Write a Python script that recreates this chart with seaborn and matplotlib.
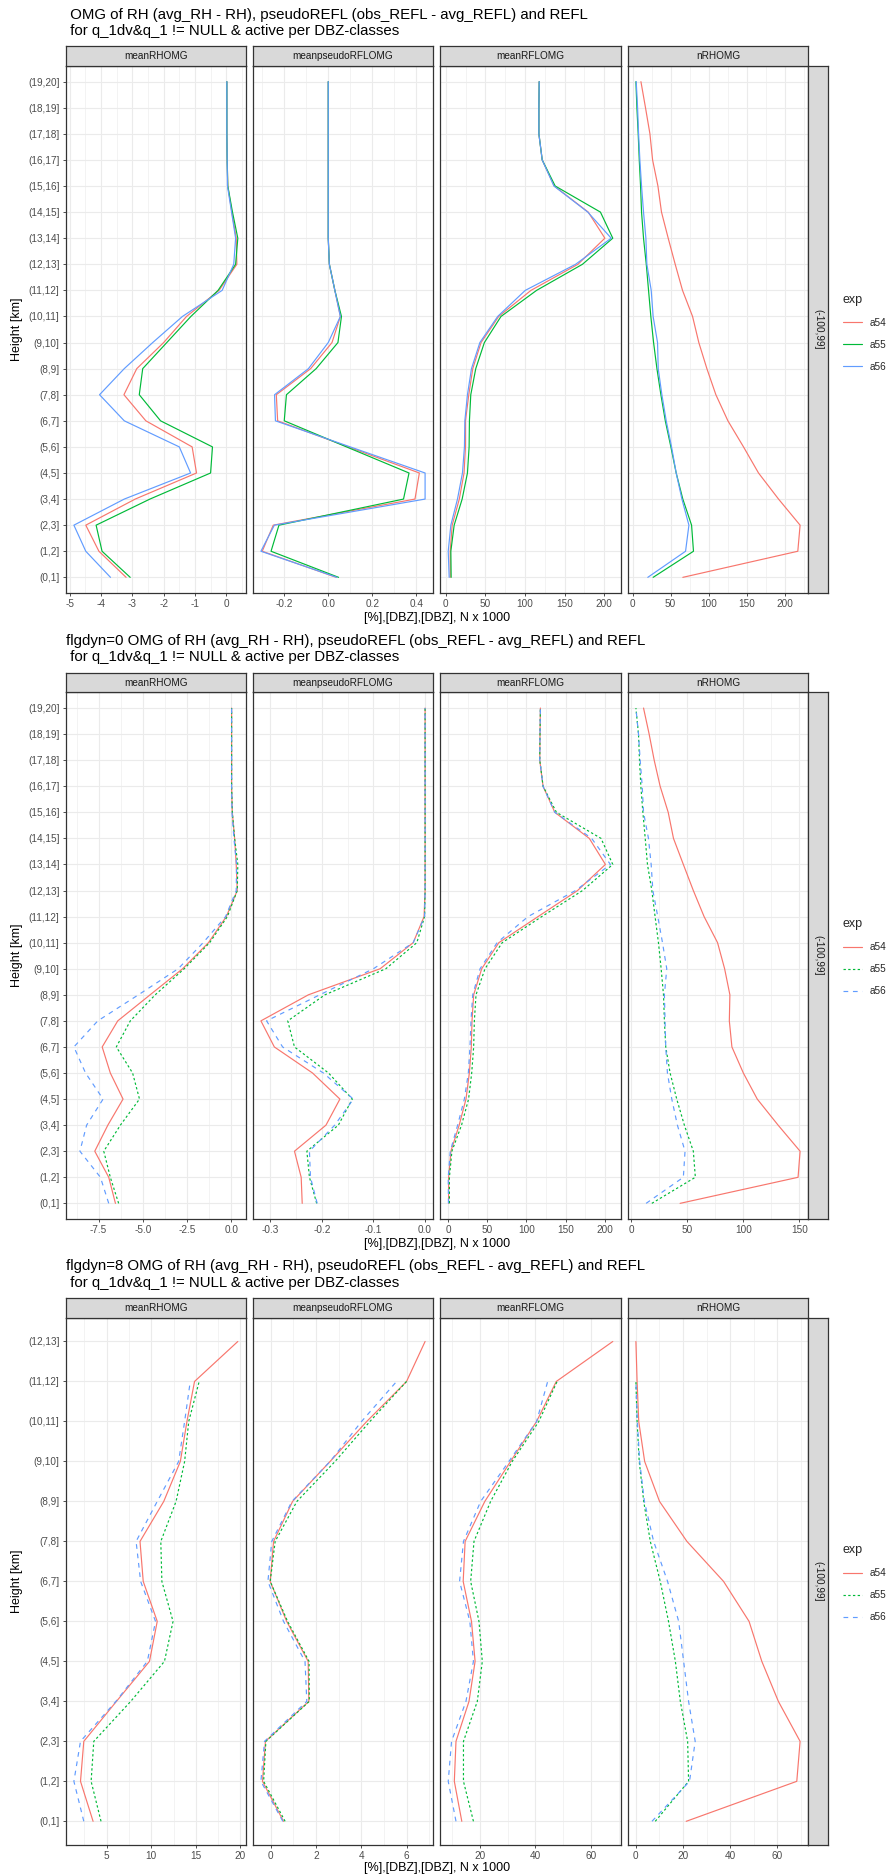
import numpy as np
import pandas as pd
import matplotlib
matplotlib.use("Agg")
import matplotlib.pyplot as plt
import seaborn as sns

# ---------------- data (bottom level first) ----------------
EXPS = ["a54", "a55", "a56"]
FACETS = ["meanRHOMG", "meanpseudoRFLOMG", "meanRFLOMG", "nRHOMG"]

LEVELS_20 = ["(0,1]", "(1,2]", "(2,3]", "(3,4]", "(4,5]", "(5,6]", "(6,7]", "(7,8]",
             "(8,9]", "(9,10]", "(10,11]", "(11,12]", "(12,13]", "(13,14]", "(14,15]",
             "(15,16]", "(16,17]", "(17,18]", "(18,19]", "(19,20]"]
LEVELS_13 = ["(0,1]", "(1,2]", "(2,3]", "(3,4]", "(4,5]", "(5,6]", "(6,7]", "(7,8]",
             "(8,9]", "(9,10]", "(10,11]", "(11,12]", "(12,13]"]

# panel 1: all data
P1_RH_A54 = [-3.2, -4.07, -4.49, -2.91, -0.95, -1.09, -2.57, -3.27, -2.86, -2.0, -1.27, -0.23, 0.34, 0.32, 0.18, 0.05, 0.03, 0.02, 0.02, 0.02]
P1_RH_A55 = [-3.07, -3.97, -4.16, -2.44, -0.5, -0.44, -2.1, -2.78, -2.67, -1.9, -1.13, -0.26, 0.3, 0.37, 0.2, 0.05, 0.03, 0.02, 0.02, 0.02]
P1_RH_A56 = [-3.7, -4.49, -4.87, -3.26, -1.14, -1.5, -3.26, -4.05, -3.26, -2.35, -1.4, -0.13, 0.24, 0.3, 0.17, 0.04, 0.03, 0.02, 0.02, 0.02]
P1_PS_A54 = [0.036, -0.30, -0.25, 0.394, 0.414, 0.091, -0.23, -0.236, -0.08, 0.017, 0.055, 0.03, 0.005, 0.0, 0.0, 0.0, 0.0, 0.0, 0.0, 0.0]
P1_PS_A55 = [0.047, -0.26, -0.224, 0.342, 0.367, 0.083, -0.2, -0.19, -0.055, 0.044, 0.06, 0.03, 0.005, 0.0, 0.0, 0.0, 0.0, 0.0, 0.0, 0.0]
P1_PS_A56 = [0.04, -0.306, -0.245, 0.44, 0.44, 0.1, -0.24, -0.244, -0.09, 0.0, 0.055, 0.03, 0.005, 0.0, 0.0, 0.0, 0.0, 0.0, 0.0, 0.0]
P1_RF_A54 = [5.5, 5.5, 8, 17, 23, 24.8, 24.8, 29, 34, 44.5, 66.8, 107.6, 167, 201, 180, 137, 121.8, 117.6, 117.6, 118]
P1_RF_A55 = [6.7, 6.3, 10.5, 20.6, 27.3, 29.4, 29.8, 31.5, 37.8, 48.7, 69.7, 114.7, 172.7, 211, 195.4, 138.2, 121.8, 117.6, 117.6, 118]
P1_RF_A56 = [4.2, 3, 6.3, 14.7, 21, 23.5, 24, 27.3, 32.4, 43, 65.5, 100.4, 164, 209, 179.4, 136.6, 121.8, 117.6, 117.6, 118]
P1_N_A54 = [66, 217, 220, 191.7, 165.4, 145.7, 125.2, 109.4, 97.6, 87, 78.8, 65.6, 56, 46.8, 38, 33.3, 26.3, 22.8, 17, 11]
P1_N_A55 = [27, 80, 77.5, 66, 57.3, 50.3, 43, 37.2, 32, 27.6, 24, 21, 18, 14.4, 11.8, 10.5, 8.8, 7.4, 5.7, 4.4]
P1_N_A56 = [20, 69.6, 74, 64.8, 57.3, 51.2, 44.2, 38.5, 33.7, 32.8, 27, 24.5, 18.8, 17.5, 14.4, 11.8, 9.6, 7.9, 6.6, 4.8]

# panel 2: flgdyn=0
P2_RH_A54 = [-6.55, -6.93, -7.72, -6.98, -6.12, -6.84, -7.3, -6.42, -4.59, -2.75, -1.29, -0.28, 0.34, 0.28, 0.19, 0.06, 0.02, 0.02, 0.02, 0.02]
P2_RH_A55 = [-6.37, -6.84, -7.21, -6.27, -5.19, -5.58, -6.5, -5.71, -4.3, -2.66, -1.22, -0.22, 0.34, 0.37, 0.19, 0.06, 0.02, 0.02, 0.02, 0.02]
P2_RH_A56 = [-6.93, -7.4, -8.56, -8.18, -7.25, -8.24, -8.9, -7.55, -5.25, -3.0, -1.59, -0.32, 0.28, 0.3, 0.15, 0.04, 0.02, 0.02, 0.02, 0.02]
P2_PS_A54 = [-0.238, -0.24, -0.253, -0.192, -0.165, -0.218, -0.292, -0.318, -0.226, -0.087, -0.023, -0.002, 0.0, 0.0, 0.0, 0.0, 0.0, 0.0, 0.0, 0.0]
P2_PS_A55 = [-0.21, -0.224, -0.229, -0.168, -0.141, -0.187, -0.253, -0.266, -0.194, -0.076, -0.016, -0.001, 0.0, 0.0, 0.0, 0.0, 0.0, 0.0, 0.0, 0.0]
P2_PS_A56 = [-0.209, -0.222, -0.224, -0.175, -0.139, -0.197, -0.276, -0.307, -0.204, -0.1, -0.023, -0.001, 0.0, 0.0, 0.0, 0.0, 0.0, 0.0, 0.0, 0.0]
P2_RF_A54 = [0.5, 0.5, 3.4, 14, 22.7, 27, 29.5, 30.4, 32.5, 42.8, 64.7, 114.8, 165.3, 200.9, 180.3, 136.2, 121.2, 117, 117.3, 117.8]
P2_RF_A55 = [1.5, 1.5, 4.7, 17, 26, 30, 32.5, 33.4, 35.5, 47, 69, 119.5, 171.7, 210.3, 195.3, 138.3, 121.2, 117, 117.3, 117.8]
P2_RF_A56 = [0.3, 0.0, 2.6, 12, 20.6, 25.7, 27.8, 29.1, 31.3, 40.7, 62.5, 102, 162.7, 207.3, 183.3, 136.2, 121.2, 117, 117.3, 117.8]
P2_N_A54 = [43.6, 148.8, 150.6, 131, 112.4, 100, 89.8, 87.5, 88, 83.3, 77, 65, 55.4, 46.5, 37.7, 33, 25.8, 20.5, 16, 11]
P2_N_A55 = [18.4, 57.2, 55.4, 47.4, 40.6, 34.7, 30.8, 29.6, 28.8, 26.7, 24.3, 21.3, 18.4, 14.5, 12.5, 10.4, 8.6, 7.4, 6.5, 4.2]
P2_N_A56 = [13.3, 46.5, 48, 41.2, 36.2, 32.3, 30.8, 30.2, 29.6, 31.7, 27.9, 23.7, 19.3, 17.8, 15.4, 11, 9.8, 8, 6.5, 4.2]

# panel 3: flgdyn=8 (a55/a56 stop at (11,12])
P3_RH_A54 = [3.48, 2.07, 2.44, 6.1, 9.8, 10.67, 9.1, 8.74, 11.4, 13.26, 14.0, 14.85, 19.7]
P3_RH_A55 = [4.37, 3.26, 3.56, 7.7, 11.48, 12.44, 11.19, 11.07, 12.78, 13.74, 14.2, 15.37]
P3_RH_A56 = [2.44, 1.33, 2.07, 6.04, 9.56, 10.48, 8.81, 8.3, 10.67, 13.07, 13.74, 14.37]
P3_PS_A54 = [0.56, -0.37, -0.24, 1.68, 1.65, 0.7, -0.03, 0.12, 0.96, 2.62, 4.24, 6.0, 6.82]
P3_PS_A55 = [0.63, -0.32, -0.22, 1.7, 1.69, 0.74, -0.03, 0.19, 1.15, 2.84, 4.38, 6.0]
P3_PS_A56 = [0.53, -0.44, -0.28, 1.59, 1.51, 0.56, -0.13, 0.04, 0.93, 2.62, 4.01, 5.56]
P3_RF_A54 = [13.4, 10.7, 11.3, 16, 18.2, 16.9, 13.9, 14.6, 21.7, 31, 40.4, 47.5, 67.9]
P3_RF_A55 = [17.6, 14, 14, 19, 20.8, 19.6, 16.6, 17.8, 23.8, 31.6, 41.2, 47.8]
P3_RF_A56 = [11.3, 8.5, 9.7, 14.9, 17.6, 16.3, 12.6, 14, 20.2, 30.4, 40.4, 44.4]
P3_N_A54 = [21.4, 68.2, 69.6, 60.4, 53.4, 48, 37.2, 21.7, 10.1, 3.8, 1.3, 0.6, 0.1]
P3_N_A55 = [8.3, 22.4, 22, 18.9, 16.8, 13.9, 10.4, 6.2, 3.4, 1.5, 0.6, 0.1]
P3_N_A56 = [6.9, 22.8, 25.2, 22.4, 20.3, 18.2, 13.5, 7.6, 3.7, 1.7, 0.7, 0.1]

# x tick values / labels per facet
P1_XTICKS = [[-5, -4, -3, -2, -1, 0], [-0.2, 0.0, 0.2, 0.4], [0, 50, 100, 150, 200], [0, 50, 100, 150, 200]]
P1_XLABELS = [["-5", "-4", "-3", "-2", "-1", "0"], ["-0.2", "0.0", "0.2", "0.4"], ["0", "50", "100", "150", "200"], ["0", "50", "100", "150", "200"]]
P2_XTICKS = [[-7.5, -5.0, -2.5, 0.0], [-0.3, -0.2, -0.1, 0.0], [0, 50, 100, 150, 200], [0, 50, 100, 150]]
P2_XLABELS = [["-7.5", "-5.0", "-2.5", "0.0"], ["-0.3", "-0.2", "-0.1", "0.0"], ["0", "50", "100", "150", "200"], ["0", "50", "100", "150"]]
P3_XTICKS = [[5, 10, 15, 20], [0, 2, 4, 6], [20, 40, 60], [0, 20, 40, 60]]
P3_XLABELS = [["5", "10", "15", "20"], ["0", "2", "4", "6"], ["20", "40", "60"], ["0", "20", "40", "60"]]

TITLES = [
    (" OMG of RH (avg_RH - RH), pseudoREFL (obs_REFL - avg_REFL) and REFL", " for q_1dv&q_1 != NULL & active per DBZ-classes"),
    ("flgdyn=0 OMG of RH (avg_RH - RH), pseudoREFL (obs_REFL - avg_REFL) and REFL", " for q_1dv&q_1 != NULL & active per DBZ-classes"),
    ("flgdyn=8 OMG of RH (avg_RH - RH), pseudoREFL (obs_REFL - avg_REFL) and REFL", " for q_1dv&q_1 != NULL & active per DBZ-classes"),
]
ROW_STRIP = "(-100,99]"
YLABEL = "Height [km]"
XLABEL = "[%],[DBZ],[DBZ], N x 1000"


def build(levels, series):
    rows = []
    for facet, per_exp in zip(FACETS, series):
        for exp, vals in zip(EXPS, per_exp):
            for i, v in enumerate(vals):
                rows.append({"facet": facet, "exp": exp, "level": levels[i], "pos": i, "value": v})
    return pd.DataFrame(rows)


DF1 = build(LEVELS_20, [[P1_RH_A54, P1_RH_A55, P1_RH_A56], [P1_PS_A54, P1_PS_A55, P1_PS_A56],
                        [P1_RF_A54, P1_RF_A55, P1_RF_A56], [P1_N_A54, P1_N_A55, P1_N_A56]])
DF2 = build(LEVELS_20, [[P2_RH_A54, P2_RH_A55, P2_RH_A56], [P2_PS_A54, P2_PS_A55, P2_PS_A56],
                        [P2_RF_A54, P2_RF_A55, P2_RF_A56], [P2_N_A54, P2_N_A55, P2_N_A56]])
DF3 = build(LEVELS_13, [[P3_RH_A54, P3_RH_A55, P3_RH_A56], [P3_PS_A54, P3_PS_A55, P3_PS_A56],
                        [P3_RF_A54, P3_RF_A55, P3_RF_A56], [P3_N_A54, P3_N_A55, P3_N_A56]])

# ---------------- style ----------------
sns.set_theme(style="white")
plt.rcParams["font.family"] = ["Liberation Sans", "DejaVu Sans"]
plt.rcParams["axes.unicode_minus"] = False

PALETTE = {"a54": "#F8766D", "a55": "#00BA38", "a56": "#619CFF"}
DASHES = {"a54": "", "a55": (2, 2), "a56": (4, 4)}
GRID = "#EBEBEB"
DARK = "#333333"
TICKTXT = "#4D4D4D"
STRIPBG = "#D9D9D9"
STRIPTXT = "#1A1A1A"
FS_TICK = 7.2
FS_STRIP = 7.2
FS_AXIS = 9.0
FS_TITLE = 10.8

W, H = 895, 1876
fig = plt.figure(figsize=(W / 100, H / 100), dpi=100)


def rect(x0, y0, x1, y1):
    return [x0 / W, 1 - y1 / H, (x1 - x0) / W, (y1 - y0) / H]


FX = [(65.7, 246.0), (252.7, 433.3), (440.0, 621.0), (627.7, 808.3)]
RSTRIP = (808.3, 828.3)
PANELS = [
    dict(df=DF1, levels=LEVELS_20, ticks=P1_XTICKS, labels=P1_XLABELS, styled=False,
         ys=(46.3, 66.0, 593.0), title_y=(15.0, 31.0), xlab_y=618.0, leg_y=294.0),
    dict(df=DF2, levels=LEVELS_20, ticks=P2_XTICKS, labels=P2_XLABELS, styled=True,
         ys=(672.6, 692.4, 1219.0), title_y=(640.6, 656.8), xlab_y=1244.5, leg_y=918.0),
    dict(df=DF3, levels=LEVELS_13, ticks=P3_XTICKS, labels=P3_XLABELS, styled=True,
         ys=(1298.0, 1317.5, 1845.3), title_y=(1265.6, 1282.6), xlab_y=1868.0, leg_y=1544.0),
]

for p_i, P in enumerate(PANELS):
    st, at, ab = P["ys"]
    df = P["df"]
    nlev = len(P["levels"])
    handles = labels = None
    for f_i, facet in enumerate(FACETS):
        x0, x1 = FX[f_i]
        ax = fig.add_axes(rect(x0, at, x1, ab))
        sub = df[df["facet"] == facet]
        want_leg = (f_i == 3)
        if P["styled"]:
            sns.lineplot(data=sub, x="value", y="pos", hue="exp", hue_order=EXPS,
                         style="exp", style_order=EXPS, dashes=DASHES, palette=PALETTE,
                         orient="y", sort=True, estimator=None, linewidth=0.85,
                         ax=ax, legend=want_leg)
        else:
            sns.lineplot(data=sub, x="value", y="pos", hue="exp", hue_order=EXPS,
                         palette=PALETTE, orient="y", sort=True, estimator=None,
                         linewidth=0.85, ax=ax, legend=want_leg)
        if want_leg:
            leg = ax.get_legend()
            handles = list(leg.legend_handles)
            labels = [t.get_text() for t in leg.get_texts()]
            leg.remove()
        ax.set_ylim(-0.6, nlev - 1 + 0.6)
        ax.margins(x=0.05)
        ax.autoscale_view()
        xmin, xmax = ax.get_xlim()
        ticks = P["ticks"][f_i]
        step = ticks[1] - ticks[0]
        minors = [t - step / 2 for t in ticks] + [ticks[-1] + step / 2]
        minors = [m for m in minors if xmin <= m <= xmax]
        ax.set_xticks(ticks)
        ax.set_xticklabels(P["labels"][f_i])
        ax.set_xticks(minors, minor=True)
        ax.set_xlim(xmin, xmax)
        ax.set_yticks(range(nlev))
        if f_i == 0:
            ax.set_yticklabels(P["levels"])
            ax.tick_params(axis="y", which="major", length=2.5, width=0.6, color=DARK,
                           labelsize=FS_TICK, labelcolor=TICKTXT, pad=2)
        else:
            ax.set_yticklabels([])
            ax.tick_params(axis="y", which="major", length=0)
        ax.tick_params(axis="x", which="major", length=2.5, width=0.6, color=DARK,
                       labelsize=FS_TICK, labelcolor=TICKTXT, pad=1.5, direction="out",
                       bottom=True)
        ax.tick_params(axis="x", which="minor", length=0, bottom=False)
        ax.tick_params(axis="y", direction="out", left=(f_i == 0))
        ax.grid(True, which="major", axis="both", color=GRID, linewidth=0.8)
        ax.grid(True, which="minor", axis="x", color=GRID, linewidth=0.4)
        ax.set_axisbelow(True)
        for sp in ax.spines.values():
            sp.set_color(DARK)
            sp.set_linewidth(0.9)
        ax.set_xlabel("")
        ax.set_ylabel("")
        ax.set_facecolor("white")
        # strip on top
        sax = fig.add_axes(rect(x0, st, x1, at))
        sax.set_facecolor(STRIPBG)
        sax.set_xticks([])
        sax.set_yticks([])
        for sp in sax.spines.values():
            sp.set_color(DARK)
            sp.set_linewidth(0.9)
        sax.text(0.5, 0.5, facet, ha="center", va="center", fontsize=FS_STRIP,
                 color=STRIPTXT, transform=sax.transAxes)
    # right strip
    rax = fig.add_axes(rect(RSTRIP[0], at, RSTRIP[1], ab))
    rax.set_facecolor(STRIPBG)
    rax.set_xticks([])
    rax.set_yticks([])
    for sp in rax.spines.values():
        sp.set_color(DARK)
        sp.set_linewidth(0.9)
    rax.text(0.5, 0.5, ROW_STRIP, ha="center", va="center", rotation=-90,
             fontsize=FS_STRIP, color=STRIPTXT, transform=rax.transAxes)
    # titles
    t1, t2 = TITLES[p_i]
    fig.text(65.7 / W, 1 - P["title_y"][0] / H, t1, ha="left", va="center",
             fontsize=FS_TITLE, color="black")
    fig.text(65.7 / W, 1 - P["title_y"][1] / H, t2, ha="left", va="center",
             fontsize=FS_TITLE, color="black")
    # axis titles
    fig.text(17 / W, 1 - ((at + ab) / 2) / H, YLABEL, rotation=90, ha="center",
             va="center", fontsize=FS_AXIS, color="black")
    fig.text(437 / W, 1 - P["xlab_y"] / H, XLABEL, ha="center", va="center",
             fontsize=FS_AXIS, color="black")
    # legend
    fig.legend(handles, labels, title="exp", loc="upper left",
               bbox_to_anchor=(843 / W, 1 - P["leg_y"] / H), frameon=False,
               fontsize=FS_TICK, title_fontsize=FS_AXIS, handlelength=1.9,
               handletextpad=0.8, labelspacing=1.2, borderpad=0, borderaxespad=0,
               alignment="left")

fig.savefig("out.png", dpi=100, facecolor="white")
